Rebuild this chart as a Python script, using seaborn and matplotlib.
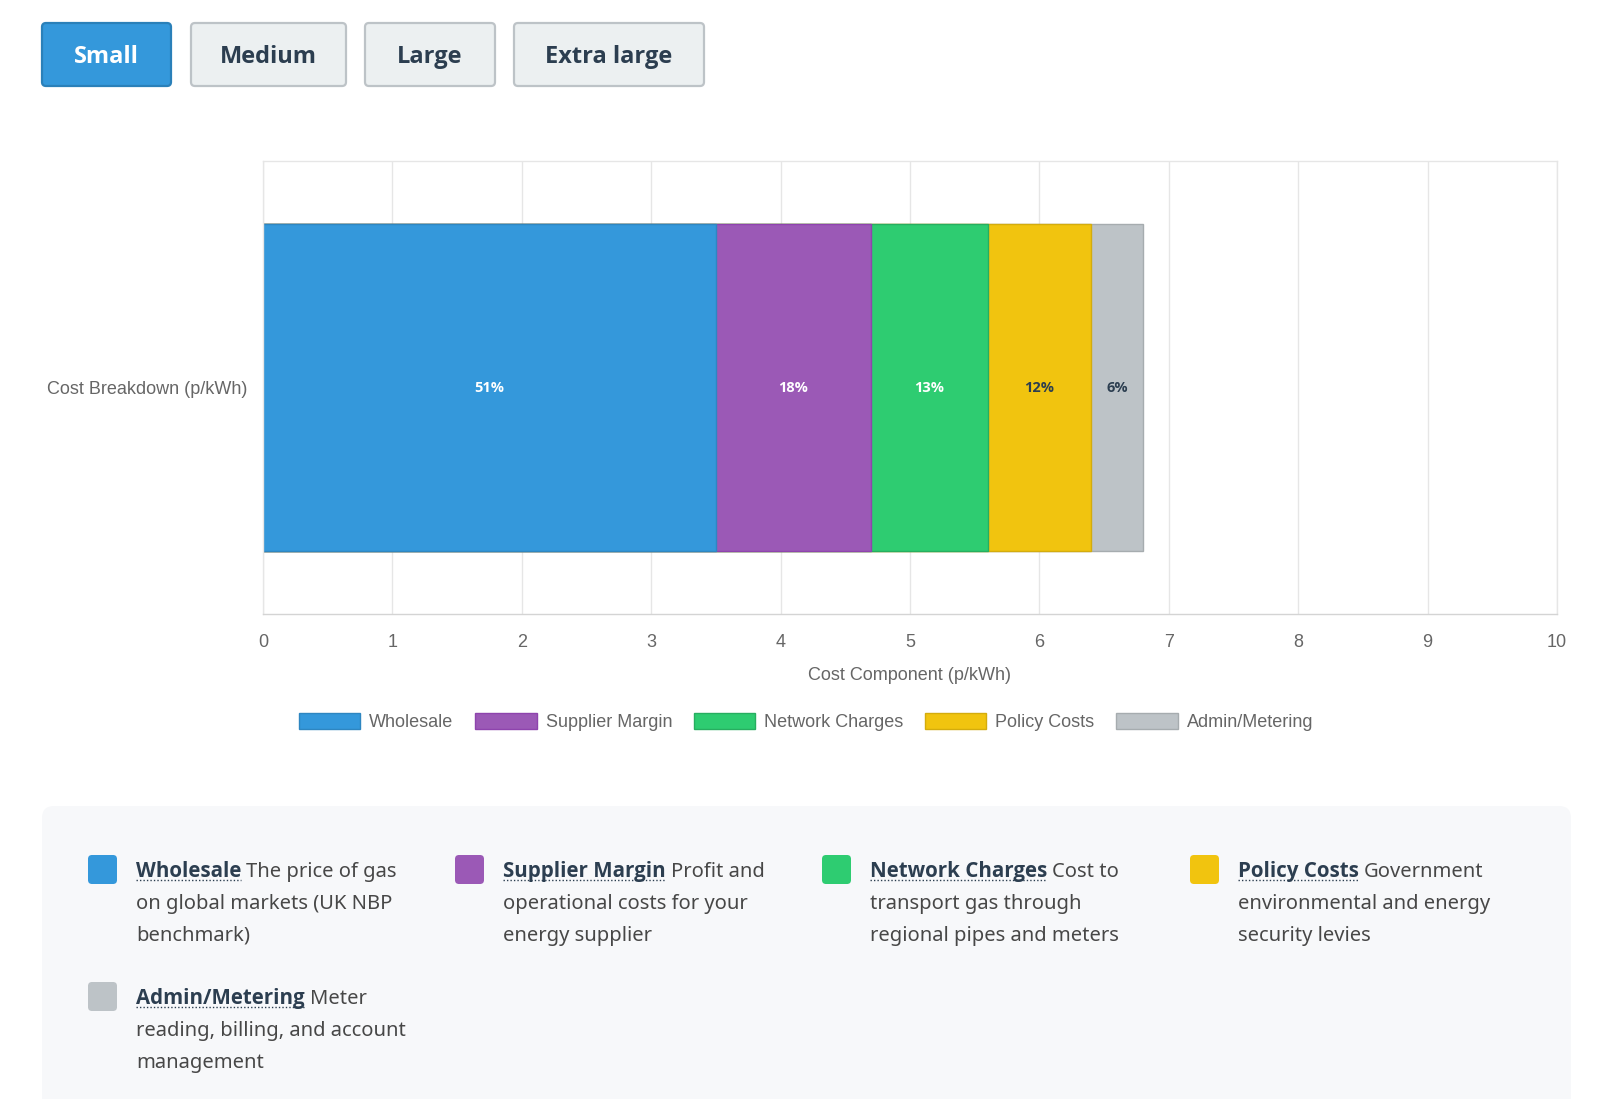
import matplotlib
matplotlib.use("Agg")
import matplotlib.pyplot as plt
import seaborn as sns
import pandas as pd
from matplotlib.patches import FancyBboxPatch, Patch

# --- dados do grafico ---
componentes = ['Wholesale', 'Supplier Margin', 'Network Charges', 'Policy Costs', 'Admin/Metering']
valores = [3.5, 1.2, 0.9, 0.8, 0.4]
categoria = 'Cost Breakdown (p/kWh)'
ticks_x = list(range(0, 11))
titulo_x = 'Cost Component (p/kWh)'
botoes = ['Small', 'Medium', 'Large', 'Extra large']
botao_ativo = 'Small'

# descricoes (quebradas em linhas como na pagina)
descricoes = [
    ['The price of gas', 'on global markets (UK NBP', 'benchmark)'],
    ['Profit and', 'operational costs for your', 'energy supplier'],
    ['Cost to', 'transport gas through', 'regional pipes and meters'],
    ['Government', 'environmental and energy', 'security levies'],
    ['Meter', 'reading, billing, and account', 'management'],
]

# cores
cores = ['#3498db', '#9b59b6', '#2ecc71', '#f1c40f', '#bdc3c7']
bordas = ['#2e86c1', '#8e44ad', '#27ae60', '#d4ac0d', '#a6acaf']
cor_rotulo = ['white', 'white', 'white', '#2c3e50', '#2c3e50']

W, H = 1600, 1099
sns.set_style("white")
plt.rcParams['font.family'] = ['Liberation Sans', 'DejaVu Sans']
fonte_negrito = ['Open Sans', 'DejaVu Sans']
fonte_desc = ['Noto Sans', 'DejaVu Sans']

fig = plt.figure(figsize=(W / 100, H / 100), dpi=100)

# camada de fundo em pixels (botoes, painel de descricoes)
ov = fig.add_axes([0, 0, 1, 1])
ov.set_xlim(0, W)
ov.set_ylim(H, 0)
ov.axis('off')

# --- grafico de barras empilhadas ---
ax = fig.add_axes([263 / W, 1 - 614 / H, (1557 - 263) / W, (614 - 161) / H])

df = pd.DataFrame({'Componente': componentes, 'Valor': valores})
df['Acumulado'] = df['Valor'].cumsum()
df['Inicio'] = df['Acumulado'] - df['Valor']
df['Categoria'] = categoria

# desenha do maior acumulado para o menor, assim cada segmento fica visivel
for i in reversed(range(len(df))):
    sns.barplot(data=df.iloc[[i]], x='Acumulado', y='Categoria', orient='h',
                color=cores[i], saturation=1, width=0.72, errorbar=None,
                edgecolor=bordas[i], linewidth=1, ax=ax)

total = df['Valor'].sum()
for i, r in df.iterrows():
    ax.text(r['Inicio'] + r['Valor'] / 2, 0, f"{r['Valor'] / total * 100:.0f}%",
            ha='center', va='center', color=cor_rotulo[i], fontsize=10.5,
            fontweight='bold', family=fonte_negrito)

ax.set_xlim(0, 10)
ax.set_ylim(0.5, -0.5)
ax.set_xticks(ticks_x)
ax.set_xticklabels([str(t) for t in ticks_x])
ax.grid(axis='x', color='#e6e6e6', lw=1)
ax.set_axisbelow(True)
for s in ax.spines.values():
    s.set_color('#e6e6e6')
    s.set_linewidth(1)
ax.spines['bottom'].set_color('#d4d4d4')
ax.tick_params(axis='x', length=8, color='#e6e6e6', labelcolor='#666666', labelsize=13, pad=6.5)
ax.set_yticks([0])
ax.set_yticklabels([categoria])
ax.set_yticks([-0.5, 0.5], minor=True)
ax.tick_params(axis='y', which='major', length=0, pad=11.3, labelcolor='#666666', labelsize=13)
ax.tick_params(axis='y', which='minor', length=11, color='#e6e6e6')
ax.set_ylabel('')
ax.set_xlabel(titulo_x, color='#666666', fontsize=13, labelpad=11.5)

handles = [Patch(facecolor=c, edgecolor=b, linewidth=1, label=n)
           for n, c, b in zip(componentes, cores, bordas)]
fig.legend(handles=handles, loc='center', bbox_to_anchor=(806 / W, 1 - 722 / H), ncol=5,
           frameon=False, fontsize=13, handlelength=3.4, handleheight=1.05,
           handletextpad=0.5, columnspacing=1.2, labelcolor='#666666')

# --- botoes de tamanho ---
pos_botoes = [(42, 171), (191, 346), (365, 495), (514, 704)]
for nome, (x0, x1) in zip(botoes, pos_botoes):
    ativo = nome == botao_ativo
    ov.add_patch(FancyBboxPatch((x0, 23), x1 - x0, 63, boxstyle='round,pad=0,rounding_size=4',
                                fc='#3498db' if ativo else '#ecf0f1',
                                ec='#2a80b9' if ativo else '#bdc3c7', lw=1.6))
    ov.text((x0 + x1) / 2, 57, nome, ha='center', va='center', fontsize=17, fontweight='bold',
            color='white' if ativo else '#2c3e50', family=fonte_negrito)

# --- painel de descricoes ---
ov.add_patch(FancyBboxPatch((42, 806), 1529, 330, boxstyle='round,pad=0,rounding_size=12',
                            fc='#f7f8fa', ec='none'))

fig.canvas.draw()
rend = fig.canvas.get_renderer()

col_x = [88, 455, 822, 1190]
lin_y = [855, 982]
for i, (nome, linhas) in enumerate(zip(componentes, descricoes)):
    sx = col_x[i % 4]
    sy = lin_y[i // 4]
    ov.add_patch(FancyBboxPatch((sx, sy), 29, 29, boxstyle='round,pad=0,rounding_size=4',
                                fc=cores[i], ec='none'))
    tx = sx + 48
    base = sy + 22
    t = ov.text(tx, base, nome, ha='left', va='baseline', fontsize=14.8, fontweight='bold',
                color='#2c3e50', family=fonte_negrito)
    larg = t.get_window_extent(rend).width
    ov.plot([tx, tx + larg], [base + 3, base + 3], ls=(0, (1, 1.5)), lw=1, color='#2c3e50')
    ov.text(tx + larg + 5, base, linhas[0], ha='left', va='baseline', fontsize=14.5,
            color='#474747', family=fonte_desc)
    for k, linha in enumerate(linhas[1:], start=1):
        ov.text(tx, base + 32 * k, linha, ha='left', va='baseline', fontsize=14.5,
                color='#474747', family=fonte_desc)

fig.savefig('out.png', dpi=100)
